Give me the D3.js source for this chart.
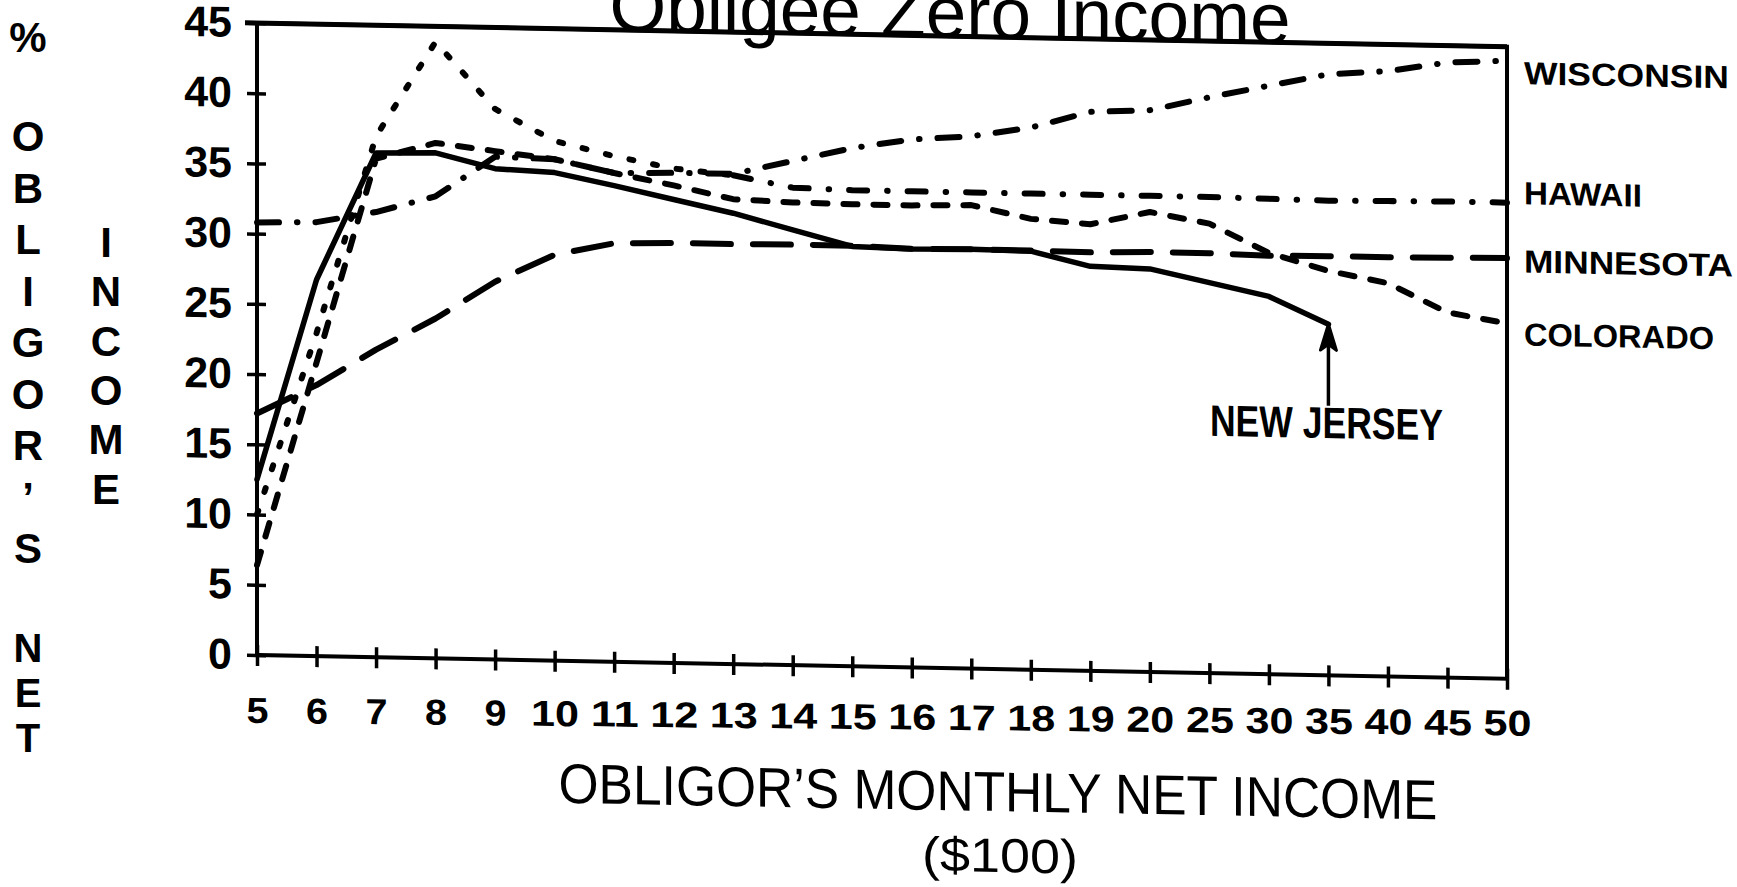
<!DOCTYPE html>
<html>
<head>
<meta charset="utf-8">
<script src="https://cdn.jsdelivr.net/npm/d3@7"></script>
<style>
    body { margin: 0; background: #fff; }
    svg { display: block; }
    text { font-family: 'Liberation Sans', Arial, sans-serif; fill: #000; }
</style>
</head>
<body>
<script>

// obligor's monthly net income, in $100 (categories, not evenly spaced)
var incomeLevels = ['5', '6', '7', '8', '9', '10', '11', '12', '13', '14', '15', '16', '17', '18', '19', '20', '25', '30', '35', '40', '45', '50']

// % of obligor's net income
var wisconsin = [30.8, 30.9, 31.7, 32.9, 35.8, 35.7, 34.8, 34.9, 34.9, 35.9, 36.9, 37.6, 37.9, 38.6, 39.8, 40.0, 41.0, 41.9, 42.8, 43.1, 43.8, 44.0]
var hawaii = [10.0, 23.0, 37.1, 43.9, 39.2, 37.0, 36.0, 35.2, 34.8, 34.0, 33.9, 33.9, 33.9, 33.9, 33.9, 33.9, 33.9, 33.85, 33.8, 33.85, 33.9, 33.9]
var minnesota = [17.2, 19.3, 21.9, 24.2, 26.9, 28.9, 29.8, 29.9, 29.9, 29.95, 29.95, 29.8, 29.85, 29.85, 29.8, 29.9, 29.9, 29.8, 29.85, 29.85, 29.9, 29.95]
var colorado = [6.4, 20.9, 35.5, 36.7, 36.2, 35.7, 34.8, 34.0, 33.1, 32.95, 32.9, 32.9, 33.0, 32.1, 31.8, 32.75, 32.0, 30.0, 28.8, 28.0, 26.0, 25.3]
var newJersey = [12.5, 26.8, 35.9, 36.0, 34.95, 34.75, 33.9, 33.0, 32.1, 31.0, 29.9, 29.8, 29.85, 29.8, 28.8, 28.7, 27.8, 26.9, 25.0]

var stateNames = ['WISCONSIN', 'HAWAII', 'MINNESOTA', 'COLORADO']
var labelValues = [42.35, 33.8, 28.95, 23.75]
var labelWidths = [205, 118, 209, 190]

var newJerseyLabel = 'NEW JERSEY'
var arrowBaseValue = 19.2
var newJerseyLabelValue = 16.9

var yTicks = [0, 5, 10, 15, 20, 25, 30, 35, 40, 45]

var yTitlePercent = ['%']
var yTitleObligors = ['O', 'B', 'L', 'I', 'G', 'O', 'R', '\u2019', 'S']
var yTitleNet = ['N', 'E', 'T']
var yTitleIncome = ['I', 'N', 'C', 'O', 'M', 'E']

var width = 1737
var height = 887
var plotLeft = 257
var plotRight = 1507
var plotTop = 23
var plotBottom = 655

// the scanned page is sheared: right side sits lower than the left
var skewAngle = Math.atan(0.019) * 180 / Math.PI

var svg = d3.select('body')
                .append('svg')
                    .attr('width', width)
                    .attr('height', height)

var g = svg.append('g')
            .attr('transform', 'translate(' + plotLeft + ',0) skewY(' + skewAngle + ') translate(' + (-plotLeft) + ',0)')

var xscale = d3.scalePoint()
                .domain(incomeLevels)
                .range([plotLeft, plotRight])

var yscale = d3.scaleLinear()
                .domain([0, 45])
                .range([plotBottom, plotTop])

// frame
g.append('rect')
    .attr('x', plotLeft)
    .attr('y', yscale(45))
    .attr('width', plotRight - plotLeft)
    .attr('height', yscale(0) - yscale(45))
    .attr('fill', 'none')
    .attr('stroke', '#000')
    .attr('stroke-width', 4)

g.append('line')
    .attr('x1', plotLeft - 12).attr('x2', plotRight)
    .attr('y1', yscale(45)).attr('y2', yscale(45))
    .attr('stroke', '#000')
    .attr('stroke-width', 5)

// axes
var y_axis = d3.axisLeft(yscale).tickValues(yTicks).tickSize(10).tickPadding(15)
var yAxisG = g.append('g')
                .attr('transform', 'translate(' + plotLeft + ',0)')
                .call(y_axis)
yAxisG.select('.domain').remove()
yAxisG.selectAll('.tick line').attr('x1', 9).attr('stroke', '#000').attr('stroke-width', 3.5)
yAxisG.selectAll('.tick text')
        .style('font-size', '43px')
        .style('font-weight', 'bold')
        .attr('fill', '#000')

var x_axis = d3.axisBottom(xscale).tickSize(11)
var xAxisG = g.append('g')
                .attr('transform', 'translate(0,' + plotBottom + ')')
                .call(x_axis)
xAxisG.select('.domain').remove()
xAxisG.selectAll('.tick line').attr('y1', -10).attr('stroke', '#000').attr('stroke-width', 3.5)
// labels on the scan are less sheared than the axis line
xAxisG.selectAll('.tick text')
        .attr('y', d => 68 - 0.009 * (xscale(d) - plotLeft))
        .attr('dy', 0)
        .attr('fill', '#000')
        .attr('textLength', d => d.length == 1 ? 22 : 48)
        .attr('lengthAdjust', 'spacingAndGlyphs')
        .style('font-size', '36px')
        .style('font-weight', 'bold')

// series
function drawSeries(values, from, to, dash, lineWidth) {
    var pts = values.map((v, i) => [i, v]).slice(from, to + 1)
    var line = d3.line()
                .x(p => xscale(incomeLevels[p[0]]))
                .y(p => yscale(p[1]))
    g.append('path')
        .attr('d', line(pts))
        .attr('fill', 'none')
        .attr('stroke', '#000')
        .attr('stroke-width', lineWidth)
        .attr('stroke-linecap', 'round')
        .attr('stroke-linejoin', 'round')
        .attr('stroke-dasharray', dash)
}

drawSeries(minnesota, 0, minnesota.length - 1, '38 22', 6)
drawSeries(colorado, 0, colorado.length - 1, '14 16', 6)
drawSeries(wisconsin, 0, wisconsin.length - 1, '22 18 0.5 18', 6)
drawSeries(hawaii, 0, 8, '4 20', 6)
drawSeries(hawaii, 8, hawaii.length - 1, '18 20 0.5 20', 6)
drawSeries(newJersey, 0, newJersey.length - 1, null, 5.5)

// new jersey arrow and label
var njLast = newJersey.length - 1
var ax = xscale(incomeLevels[njLast])
var tipY = yscale(newJersey[njLast])
g.append('line')
    .attr('x1', ax).attr('x2', ax)
    .attr('y1', yscale(arrowBaseValue)).attr('y2', tipY + 10)
    .attr('stroke', '#000')
    .attr('stroke-width', 3.5)
g.append('path')
    .attr('d', 'M' + ax + ',' + tipY + ' L' + (ax - 8) + ',' + (tipY + 26) + ' L' + ax + ',' + (tipY + 20) + ' L' + (ax + 8) + ',' + (tipY + 26) + ' Z')
    .attr('fill', '#000')
    .attr('stroke', '#000')
    .attr('stroke-width', 3)
    .attr('stroke-linejoin', 'round')
g.append('text')
    .attr('x', ax - 2)
    .attr('y', yscale(newJerseyLabelValue))
    .attr('text-anchor', 'middle')
    .attr('textLength', 233)
    .attr('lengthAdjust', 'spacingAndGlyphs')
    .style('font-size', '44px')
    .style('font-weight', 'bold')
    .text(newJerseyLabel)

// state labels at the right
g.selectAll('.state-label')
    .data(stateNames)
    .enter()
        .append('text')
            .attr('x', plotRight + 17)
            .attr('y', (d, i) => yscale(labelValues[i]))
            .attr('textLength', (d, i) => labelWidths[i])
            .attr('lengthAdjust', 'spacingAndGlyphs')
            .style('font-size', '32px')
            .style('font-weight', 'bold')
            .text(d => d)

// title, cut off by the top of the page
g.append('text')
    .attr('x', 950)
    .attr('y', yscale(45) + 1)
    .attr('text-anchor', 'middle')
    .attr('textLength', 681)
    .attr('lengthAdjust', 'spacingAndGlyphs')
    .style('font-size', '72px')
    .text('Obligee Zero Income')

// x axis title
g.append('text')
    .attr('x', 998)
    .attr('y', 797)
    .attr('text-anchor', 'middle')
    .attr('textLength', 879)
    .attr('lengthAdjust', 'spacingAndGlyphs')
    .style('font-size', '56px')
    .text('OBLIGOR\u2019S MONTHLY NET INCOME')

g.append('text')
    .attr('x', 1000)
    .attr('y', 858)
    .attr('text-anchor', 'middle')
    .attr('textLength', 156)
    .attr('lengthAdjust', 'spacingAndGlyphs')
    .style('font-size', '48px')
    .text('($100)')

// y axis title, letters stacked in two columns
function stackLetters(letters, x, firstBaseline, step, size) {
    svg.append('g')
        .selectAll('text')
        .data(letters)
        .enter()
            .append('text')
                .attr('x', x)
                .attr('y', (d, i) => firstBaseline + i * step)
                .attr('text-anchor', 'middle')
                .style('font-size', size + 'px')
                .style('font-weight', 'bold')
                .text(d => d)
}

stackLetters(yTitlePercent, 28, 52, 0, 42)
stackLetters(yTitleObligors, 28, 151, 51.5, 42)
stackLetters(yTitleNet, 28, 662, 45, 40)
stackLetters(yTitleIncome, 106, 257, 49.3, 42)

</script>
</body>
</html>
